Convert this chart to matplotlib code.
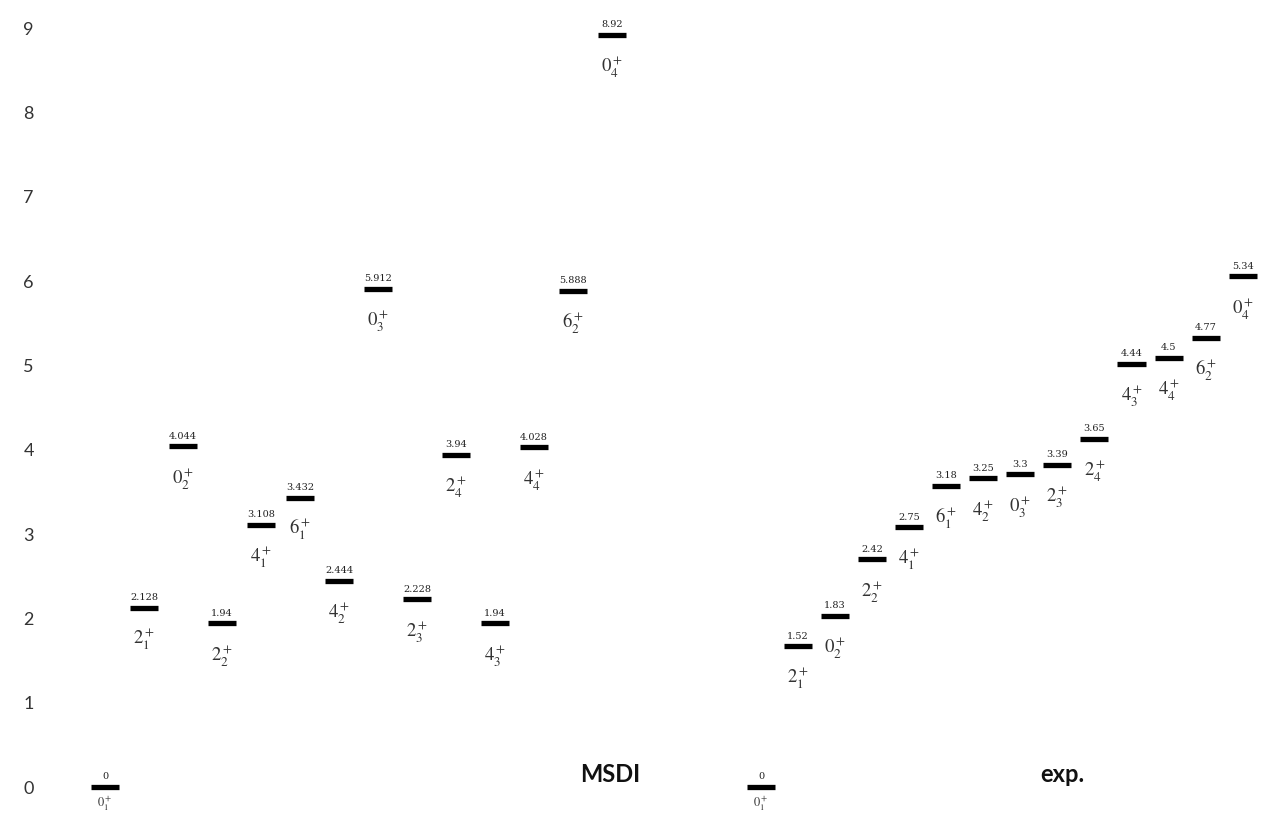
import numpy as np
import matplotlib
matplotlib.use("Agg")
import matplotlib.pyplot as plt

# MSDI calculated levels (MeV) and their state labels
msdi_energy = [0, 2.128, 4.044, 1.94, 3.108, 3.432, 2.444, 5.912, 2.228, 3.94, 1.94, 4.028, 5.888, 8.92]
msdi_text = ["0", "2.128", "4.044", "1.94", "3.108", "3.432", "2.444", "5.912", "2.228", "3.94", "1.94", "4.028", "5.888", "8.92"]
msdi_state = ["0^+_1", "2^+_1", "0^+_2", "2^+_2", "4^+_1", "6^+_1", "4^+_2", "0^+_3", "2^+_3", "2^+_4",
              "4^+_3", "4^+_4", "6^+_2", "0^+_4"]

# experimental levels: height as drawn in the picture, and the printed value
exp_level = [0, 1.67, 2.03, 2.70, 3.08, 3.57, 3.66, 3.71, 3.82, 4.13, 5.02, 5.09, 5.33, 6.06]
exp_text = ["0", "1.52", "1.83", "2.42", "2.75", "3.18", "3.25", "3.3", "3.39", "3.65", "4.44", "4.5", "4.77", "5.34"]
exp_state = ["0^+_1", "2^+_1", "0^+_2", "2^+_2", "4^+_1", "6^+_1", "4^+_2", "0^+_3", "2^+_3", "2^+_4",
             "4^+_3", "4^+_4", "6^+_2", "0^+_4"]

yticks = list(range(10))

plt.rcParams["mathtext.fontset"] = "stix"

W, H = 1266, 813
fig = plt.figure(figsize=(W / 100, H / 100), dpi=100)
ax = fig.add_axes([45 / W, 0, 1 - 45 / W, 1])

unit = 39.0  # pixels per level slot
x0 = 105.0
ax.set_xlim((45 - x0) / unit, (W - x0) / unit)
ax.set_ylim(-26 / 84.3, 787 / 84.3)

def draw_levels(xs, ys, vals, states):
    ax.hlines(ys, xs - 0.36, xs + 0.36, colors="black", linewidth=3.8)
    for x, y, v, s in zip(xs, ys, vals, states):
        ax.annotate(v, (x, y), xytext=(0, 4), textcoords="offset points",
                    ha="center", va="bottom", fontsize=7, family="DejaVu Serif", color="#222222")
        if y == 0:
            # ground state: label squeezed in under the bar, at the bottom edge
            ax.annotate("$" + s + "$", (x, y), xytext=(0, -6), textcoords="offset points",
                        ha="center", va="top", fontsize=9, color="#333333")
        else:
            ax.annotate("$" + s + "$", (x, y), xytext=(0, -23), textcoords="offset points",
                        ha="center", va="center", fontsize=13.5, color="#333333")

msdi_x = np.arange(len(msdi_energy), dtype=float)
draw_levels(msdi_x, msdi_energy, msdi_text, msdi_state)

exp_x = (761 - x0) / unit + np.arange(len(exp_level)) * 0.95
draw_levels(exp_x, exp_level, exp_text, exp_state)

ax.text((610 - x0) / unit, 0.15, "MSDI", ha="center", va="center", fontsize=17,
        family="Lato", fontweight="bold", color="#111111")
ax.text((1062 - x0) / unit, 0.15, "exp.", ha="center", va="center", fontsize=17,
        family="Lato", fontweight="bold", color="#111111")

ax.set_yticks(yticks)
ax.set_yticklabels([str(t) for t in yticks], family="Lato", fontsize=13, color="#333333")
ax.tick_params(axis="y", length=0, pad=8)
ax.set_xticks([])
for sp in ax.spines.values():
    sp.set_visible(False)

fig.savefig("out.png", dpi=100)
